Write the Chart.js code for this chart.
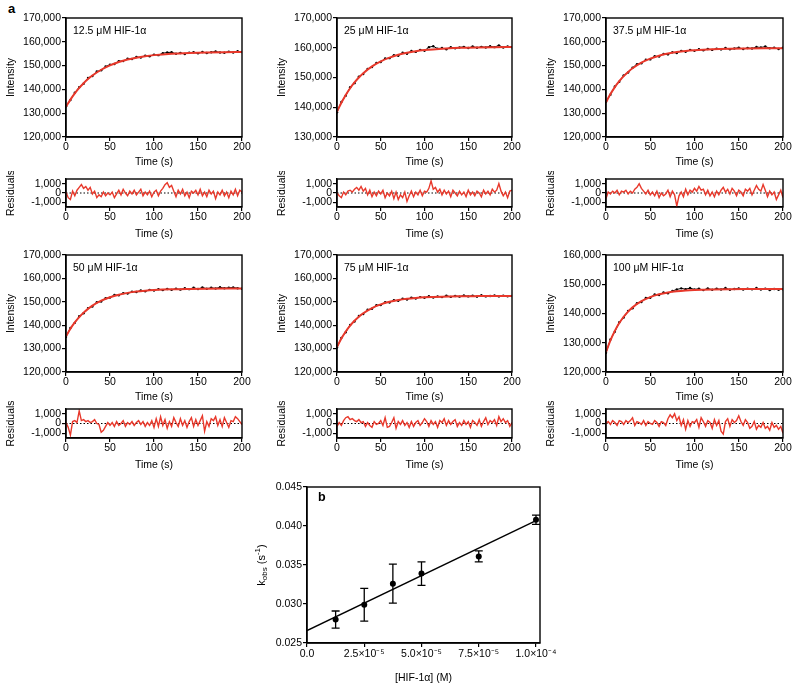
<!DOCTYPE html>
<html>
<head>
<meta charset="utf-8">
<script src="https://cdn.jsdelivr.net/npm/chart.js@4.4.1/dist/chart.umd.min.js"></script>
<style>
  body { margin: 0; background: #fff; width: 800px; height: 692px; position: relative; overflow: hidden;
         font-family: "Liberation Sans", Arial, Helvetica, sans-serif; }
  canvas { position: absolute; }
  .tag { position: absolute; font-weight: bold; font-size: 13px; }
</style>
</head>
<body>
<div class="tag" style="left:8px; top:1px;">a</div>
<script>
// ---- datos ----
const concLabels = ['12.5 μM HIF-1α', '25 μM HIF-1α', '37.5 μM HIF-1α', '50 μM HIF-1α', '75 μM HIF-1α', '100 μM HIF-1α'];
const intensityMin = [120000, 130000, 120000, 120000, 120000, 120000];
const intensityMax = [170000, 170000, 170000, 170000, 170000, 160000];

const obsTime = [0, 5, 10, 15, 20, 25, 30, 35, 40, 45, 50, 55, 60, 65, 70, 75, 80, 85, 90, 95, 100,
  105, 110, 115, 120, 125, 130, 135, 140, 145, 150, 155, 160, 165, 170, 175, 180, 185, 190, 195, 200];
const fitTime = [0, 5, 10, 15, 20, 25, 30, 40, 50, 60, 70, 80, 90, 100, 120, 140, 160, 180, 200];
const residTime = [0, 2.5, 5, 7.5, 10, 12.5, 15, 17.5, 20, 22.5, 25, 27.5, 30, 32.5, 35, 37.5, 40, 42.5, 45, 47.5,
  50, 52.5, 55, 57.5, 60, 62.5, 65, 67.5, 70, 72.5, 75, 77.5, 80, 82.5, 85, 87.5, 90, 92.5, 95, 97.5,
  100, 102.5, 105, 107.5, 110, 112.5, 115, 117.5, 120, 122.5, 125, 127.5, 130, 132.5, 135, 137.5, 140, 142.5, 145, 147.5,
  150, 152.5, 155, 157.5, 160, 162.5, 165, 167.5, 170, 172.5, 175, 177.5, 180, 182.5, 185, 187.5, 190, 192.5, 195, 197.5, 200];
const zeroLineX = [0, 200];
const zeroLineY = [0, 0];
const residTicks = [-1000, 0, 1000];

// 12.5 uM
const obs125 = [132900, 135500, 138600, 140900, 142400, 144800, 145600, 147500, 148000, 149600, 150400, 150700, 151900, 151900,
  152900, 152800, 153600, 153400, 154200, 153900, 154600, 154400, 155200, 155500, 155600, 155000, 155300, 154900, 155400,
  155600, 155200, 155700, 155300, 155600, 155900, 155500, 155400, 155800, 155500, 156000, 155700];
const fit125 = [132700, 135720, 138340, 140620, 142610, 144330, 145830, 148260, 150100, 151490, 152550, 153340, 153940,
  154400, 155000, 155340, 155540, 155650, 155710];
const resid125 = [100, -500, -700, 200, -300, 300, 600, 900, 500, 700,
  300, 600, -100, 200, -500, -200, -400, 100, -300, 0,
  -200, 100, -500, -100, 300, -200, 400, 0, -300, 200,
  -100, 300, -200, 100, 400, -300, 100, -200, 200, -400,
  100, 300, -300, 200, 500, 900, 1100, 600, 800, 200,
  -400, 300, -100, 400, -300, 100, -500, 200, 0, 300,
  -200, 400, -300, 100, -400, 300, -100, 200, -600, 100,
  -200, 300, -300, 100, -500, 200, -200, 400, -300, 300,
  100];

// 25 uM
const obs25 = [138300, 141800, 143900, 146700, 148100, 150300, 151200, 152900, 153500, 154900, 155200, 156400, 156500, 157500,
  157300, 158300, 158000, 158900, 158600, 159300, 159000, 160200, 160500, 159700, 159900, 159500, 160200, 159800, 160100,
  160300, 159900, 160400, 160000, 160300, 160100, 160500, 160200, 160800, 160100, 160400, 160200];
const fit25 = [138500, 141540, 144150, 146400, 148340, 150000, 151440, 153730, 155440, 156700, 157630, 158320, 158840,
  159210, 159700, 159970, 160120, 160200, 160250];
const resid25 = [0, -300, -500, 100, -200, 200, 300, 100, 400, 600,
  300, 700, 200, 500, -200, 300, -400, 100, -300, 200,
  -100, 300, -500, 0, -300, 200, -600, 100, -700, -200,
  -500, 100, -900, -300, 200, -400, 100, -200, 300, -300,
  200, 100, 500, 1300, 400, 600, 100, 400, -200, 300,
  -100, 200, -400, 300, 0, -300, 200, -200, 100, -400,
  300, -200, 100, -300, 200, 0, -400, 300, -100, 200,
  -200, 400, 100, 300, 1000, 200, -300, 100, -500, 200,
  300];

// 37.5 uM
const obs375 = [134800, 137800, 141200, 143200, 145900, 147100, 149100, 150600, 151000, 152500, 152600, 153900, 153800, 154900,
  154700, 155600, 155300, 156200, 155800, 156600, 156200, 156900, 156400, 157000, 156600, 157100, 156800, 157400, 156900,
  157200, 157500, 157000, 157400, 157200, 157800, 157600, 158000, 157300, 157500, 157000, 157500];
const fit375 = [134600, 138050, 140980, 143460, 145570, 147350, 148860, 151240, 152940, 154170, 155050, 155680, 156140,
  156460, 156870, 157080, 157180, 157240, 157270];
const resid375 = [-600, 100, -100, 200, 0, 300, -200, 200, 100, 300,
  -100, 200, 0, 400, 600, 1000, 500, 200, -100, 300,
  -200, 100, -300, 200, -500, 0, -300, -100, 300, -400,
  200, -200, -1400, -300, 100, -400, 400, -200, 300, 100,
  500, 200, 700, 300, 400, -200, 300, -300, 100, -400,
  200, -200, 300, 600, 100, 400, -100, 500, 200, -300,
  300, 100, -300, 400, 200, 500, -200, 300, 800, 400,
  200, 900, 300, -400, 200, -200, 100, -700, -200, 300,
  -500];

// 50 uM
const obs50 = [135000, 138800, 141000, 143800, 145100, 147300, 148000, 149800, 150100, 151500, 151800, 152900, 152800, 153700,
  153500, 154300, 154200, 154800, 154500, 155100, 154800, 155400, 155000, 155500, 155100, 155600, 155200, 155800, 155400,
  156000, 155500, 156100, 155600, 156000, 155700, 156200, 155800, 156000, 156100, 155800, 155600];
const fit50 = [135300, 138490, 141180, 143450, 145370, 146980, 148340, 150460, 151970, 153050, 153810, 154360, 154740,
  155020, 155360, 155520, 155610, 155660, 155680];
const resid50 = [100, -400, -1200, 200, 300, 100, 1300, 300, 400, 200,
  300, 100, 200, 400, 0, -100, -900, -700, -300, 100,
  -200, 100, -300, 200, -200, 0, 300, -300, 100, -100,
  200, -200, 100, 300, -100, 200, -300, 100, -200, 300,
  -400, 500, -300, 700, -200, 400, -500, 200, -300, 600,
  100, -300, 500, -200, 300, -400, 200, 600, -300, 400,
  -200, 300, 800, -800, 200, -300, 500, 300, 700, -200,
  400, -300, 600, 100, -400, 300, 200, 700, 500, 200,
  -100];

// 75 uM
const obs75 = [130500, 134600, 137000, 140100, 141600, 143900, 144800, 146600, 147000, 148500, 148600, 149800, 149700, 150700,
  150400, 151300, 151000, 151800, 151400, 152000, 151700, 152400, 151800, 152300, 152000, 152600, 152100, 152500, 152200,
  152700, 152300, 152600, 152200, 152800, 152300, 152500, 152700, 152300, 152600, 152400, 152500];
const fit75 = [130700, 134290, 137290, 139800, 141890, 143640, 145100, 147340, 148900, 149990, 150750, 151280, 151650,
  151900, 152210, 152360, 152430, 152470, 152480];
const resid75 = [-300, 100, -200, 300, 600, 700, 400, 500, 300, 200,
  400, 100, 200, -300, 100, -200, -400, 200, -100, 0,
  300, -200, 600, -400, -300, 100, 600, -500, 200, -100,
  300, -200, 100, -400, 200, -300, 100, 300, -200, 100,
  500, 200, -300, 300, -100, 200, -400, 300, 100, 500,
  -200, 300, -100, 200, 400, -300, 100, -200, 300, -100,
  200, -400, 300, 100, -200, 400, -300, 200, 600, -100,
  300, 100, 400, -200, 700, 200, 500, 100, 300, -300,
  100];

// 100 uM
const obs100 = [126600, 131100, 133800, 137000, 138600, 140900, 141800, 143500, 143900, 145300, 145400, 146500, 146300, 147200,
  146900, 147700, 148200, 148600, 148300, 148700, 148200, 148500, 148000, 148600, 148100, 148500, 148200, 148700, 148100,
  148400, 148600, 148200, 148500, 148300, 148700, 148200, 148500, 148000, 148400, 148100, 148300];
const fit100 = [126800, 130800, 134060, 136720, 138890, 140650, 142090, 144210, 145620, 146560, 147180, 147590, 147860,
  148040, 148240, 148330, 148370, 148390, 148390];
const resid100 = [0, 200, -100, 300, 100, -200, 300, 200, -100, 300,
  100, 300, 600, -200, 200, 100, -100, 300, -200, 200,
  0, -100, 300, 100, -300, 200, 100, -200, 500, 900,
  600, 1000, 300, 700, -200, 400, -600, 300, -300, 200,
  100, 400, -400, 600, 200, -300, 300, 100, -500, 400,
  -200, 300, -800, -1100, 200, 500, -300, 400, 100, 300,
  800, 200, -200, 400, 100, -500, -300, 200, -600, -200,
  -400, 100, -500, -300, -700, 100, -400, -200, -600, -300,
  -1000];

// panel b
const hifConc = [1.25e-5, 2.5e-5, 3.75e-5, 5.0e-5, 7.5e-5, 1.0e-4];
const kobs = [0.0280, 0.0299, 0.0326, 0.0339, 0.0361, 0.0408];
const kobsErr = [0.0011, 0.0021, 0.0025, 0.0015, 0.0007, 0.0006];
const kFitX = [0, 1.0e-4];
const kFitY = [0.0266, 0.0407];
const bTickValues = [0, 2.5e-5, 5.0e-5, 7.5e-5, 1.0e-4];
const bTickLabels = ['0.0', '2.5×10⁻⁵', '5.0×10⁻⁵', '7.5×10⁻⁵', '1.0×10⁻⁴'];

const observed = [obs125, obs25, obs375, obs50, obs75, obs100];
const fitted = [fit125, fit25, fit375, fit50, fit75, fit100];
const residuals = [resid125, resid25, resid375, resid50, resid75, resid100];

// ---- estilo ----
const FONT = '"Liberation Sans", Arial, Helvetica, sans-serif';
const RED = '#e8382b';
Chart.defaults.font.family = FONT;
Chart.defaults.font.size = 10.5;
Chart.defaults.color = '#000';
Chart.defaults.animation = false;

// marco completo y etiqueta dentro del panel
const framePlugin = {
  id: 'frame',
  afterDraw(chart, args, opts) {
    const { ctx, chartArea: a } = chart;
    ctx.save();
    ctx.strokeStyle = '#000';
    ctx.lineWidth = 1.4;
    ctx.strokeRect(a.left, a.top, a.right - a.left, a.bottom - a.top);
    if (opts.label) {
      ctx.font = (opts.bold ? 'bold 12.5px ' : '10.5px ') + FONT;
      ctx.fillStyle = '#000';
      ctx.textBaseline = 'middle';
      ctx.fillText(opts.label, a.left + opts.dx, a.top + opts.dy);
    }
    ctx.restore();
  }
};
Chart.register(framePlugin);

const toXY = (xs, ys) => xs.map((x, i) => ({ x, y: ys[i] }));

function gridOpts() {
  return { display: true, drawOnChartArea: false, drawTicks: true, tickLength: 4, color: '#000', lineWidth: 1.2 };
}

function xAxis(min, max, height, title) {
  return {
    type: 'linear', min, max,
    ticks: { stepSize: 50, padding: 0, maxRotation: 0, autoSkip: false },
    grid: gridOpts(),
    border: { display: true, color: '#000', width: 1.4 },
    title: { display: true, text: title, padding: { top: 0, bottom: 0 } },
    afterFit(s) { s.height = height; }
  };
}

function yAxis(min, max, width, title, extra) {
  return Object.assign({
    type: 'linear', min, max,
    ticks: { padding: 1, autoSkip: false, stepSize: 10000, callback: v => v.toLocaleString('en-US') },
    grid: gridOpts(),
    border: { display: true, color: '#000', width: 1.4 },
    title: { display: true, text: title, padding: { top: 5, bottom: 0 } },
    afterFit(s) { s.width = width; }
  }, extra);
}

function makeChart(box, yW, xH, padT, padR, datasets, scales, frame, plugins) {
  const c = document.createElement('canvas');
  const w = box.r - box.l + yW + padR;
  const h = box.b - box.t + padT + xH;
  c.width = w; c.height = h;
  c.style.left = (box.l - yW) + 'px';
  c.style.top = (box.t - padT) + 'px';
  c.style.width = w + 'px';
  c.style.height = h + 'px';
  document.body.appendChild(c);
  return new Chart(c, {
    type: 'scatter',
    data: { datasets },
    options: {
      responsive: false,
      animation: false,
      layout: { padding: { left: 0, top: padT, right: padR, bottom: 0 } },
      plugins: { legend: { display: false }, tooltip: { enabled: false }, frame },
      scales
    },
    plugins: plugins || []
  });
}

// ---- panel a ----
const colLeft = [66, 337, 606];
const colRight = [242, 512, 783];
const intRows = [[18, 137], [255, 372]];
const resRows = [[179, 207], [409, 438]];

for (let i = 0; i < 6; i++) {
  const col = i % 3, row = Math.floor(i / 3);
  const ib = { l: colLeft[col], r: colRight[col], t: intRows[row][0], b: intRows[row][1] };
  makeChart(ib, 66, 31, 10, 14, [
    { data: toXY(fitTime, fitted[i]), showLine: true, borderColor: RED, borderWidth: 2, pointRadius: 0,
      cubicInterpolationMode: 'monotone' },
    { data: toXY(obsTime, observed[i]), showLine: true, borderColor: '#000', borderWidth: 1,
      pointRadius: 1.2, pointBorderWidth: 0, pointBackgroundColor: '#000' }
  ], {
    x: xAxis(0, 200, 31, 'Time (s)'),
    y: yAxis(intensityMin[i], intensityMax[i], 66, 'Intensity', {})
  }, { label: concLabels[i], dx: 7, dy: 13 });

  const rb = { l: colLeft[col], r: colRight[col], t: resRows[row][0], b: resRows[row][1] };
  makeChart(rb, 66, 33, 8, 14, [
    { data: toXY(residTime, residuals[i]), showLine: true, borderColor: RED, borderWidth: 1.4, pointRadius: 0 },
    { data: toXY(zeroLineX, zeroLineY), showLine: true, borderColor: '#000', borderWidth: 1,
      borderDash: [1.5, 2], pointRadius: 0 }
  ], {
    x: xAxis(0, 200, 33, 'Time (s)'),
    y: yAxis(-1500, 1500, 66, 'Residuals', {
      afterBuildTicks(s) { s.ticks = residTicks.map(v => ({ value: v })); }
    })
  }, {});
}

// ---- panel b ----
const errorBarPlugin = {
  id: 'errorBars',
  beforeDatasetsDraw(chart) {
    const { ctx, scales: { x, y } } = chart;
    ctx.save();
    ctx.strokeStyle = '#000';
    ctx.lineWidth = 1.3;
    hifConc.forEach((c, i) => {
      const px = x.getPixelForValue(c);
      const top = y.getPixelForValue(kobs[i] + kobsErr[i]);
      const bot = y.getPixelForValue(kobs[i] - kobsErr[i]);
      ctx.beginPath();
      ctx.moveTo(px, top); ctx.lineTo(px, bot);
      ctx.moveTo(px - 4, top); ctx.lineTo(px + 4, top);
      ctx.moveTo(px - 4, bot); ctx.lineTo(px + 4, bot);
      ctx.stroke();
    });
    ctx.restore();
  }
};

const kTitlePlugin = {
  id: 'kTitle',
  afterDraw(chart) {
    const { ctx, chartArea: a } = chart;
    const parts = [['k', 11, 0], ['obs', 8, 3], [' (s', 11, 0], ['-1', 8, -4], [')', 11, 0]];
    ctx.save();
    ctx.translate(12, (a.top + a.bottom) / 2);
    ctx.rotate(-Math.PI / 2);
    ctx.fillStyle = '#000';
    ctx.textBaseline = 'middle';
    let total = 0;
    parts.forEach(p => { ctx.font = p[1] + 'px ' + FONT; total += ctx.measureText(p[0]).width; });
    let xx = -total / 2;
    parts.forEach(p => {
      ctx.font = p[1] + 'px ' + FONT;
      ctx.fillText(p[0], xx, p[2]);
      xx += ctx.measureText(p[0]).width;
    });
    ctx.restore();
  }
};

makeChart({ l: 307, r: 540, t: 487, b: 643 }, 57, 44, 10, 26, [
  { data: toXY(hifConc, kobs), pointRadius: 3, pointBackgroundColor: '#000', pointBorderColor: '#000', pointBorderWidth: 0 },
  { data: toXY(kFitX, kFitY), showLine: true, borderColor: '#000', borderWidth: 1.4, pointRadius: 0 }
], {
  x: {
    type: 'linear', min: 0, max: 1.0175e-4,
    afterBuildTicks(s) { s.ticks = bTickValues.map(v => ({ value: v })); },
    ticks: { padding: 1, maxRotation: 0, autoSkip: false, callback: (v, idx) => bTickLabels[idx] },
    grid: gridOpts(),
    border: { display: true, color: '#000', width: 1.4 },
    title: { display: true, text: '[HIF-1α] (M)', padding: { top: 0, bottom: 3 } },
    afterFit(s) { s.height = 44; }
  },
  y: {
    type: 'linear', min: 0.025, max: 0.045,
    ticks: { stepSize: 0.005, padding: 1, callback: v => v.toFixed(3) },
    grid: gridOpts(),
    border: { display: true, color: '#000', width: 1.4 },
    title: { display: false },
    afterFit(s) { s.width = 57; }
  }
}, { label: 'b', bold: true, dx: 11, dy: 11 }, [errorBarPlugin, kTitlePlugin]);
</script>
</body>
</html>
